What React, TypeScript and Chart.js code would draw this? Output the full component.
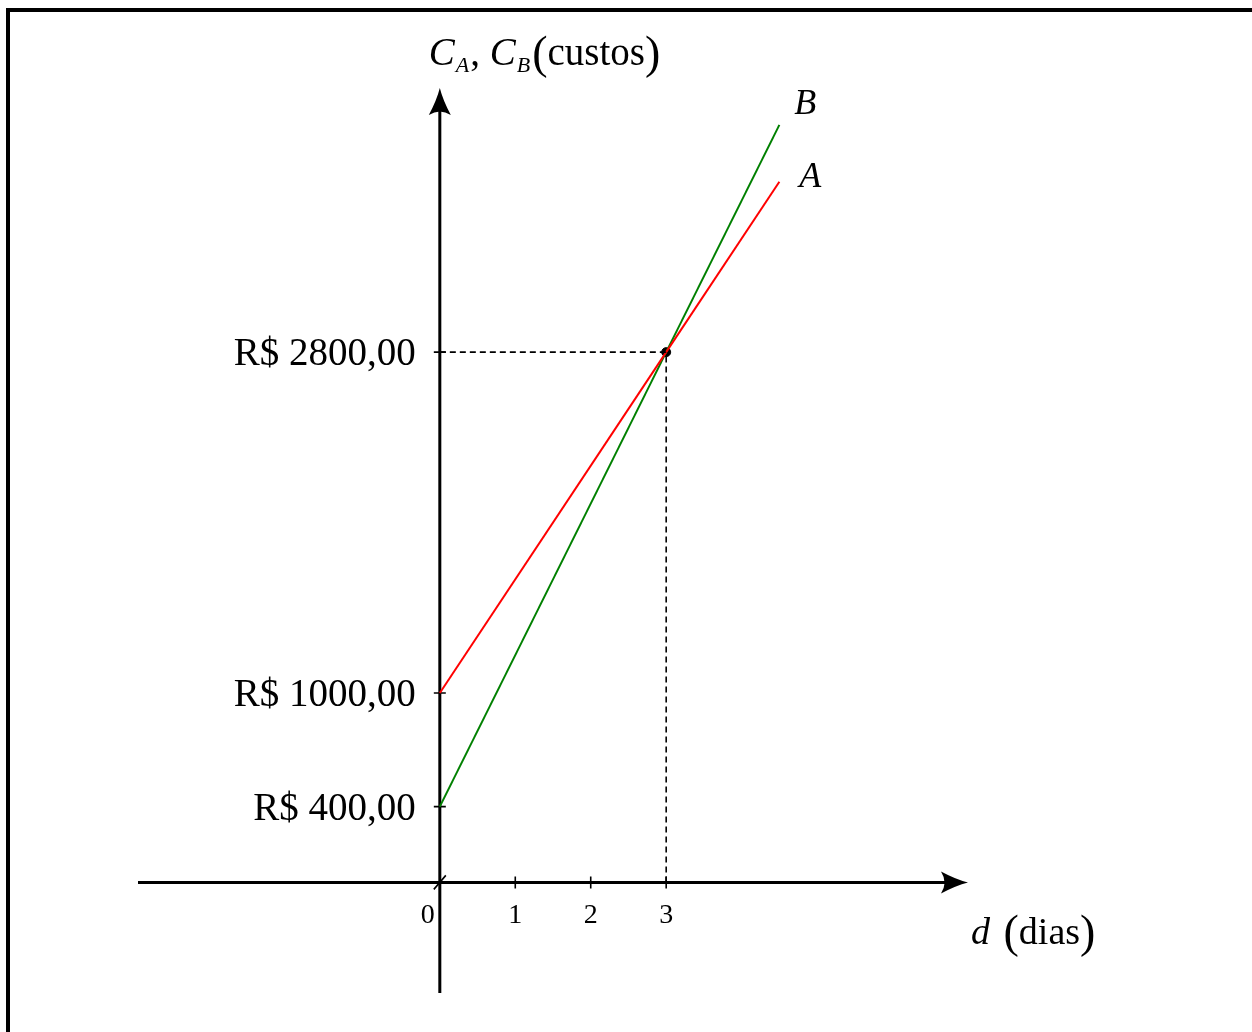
import React, { useEffect, useRef } from "react";
import Chart from "chart.js/auto";

// Cost model: C_A = 1000 + 600 d, C_B = 400 + 800 d (break-even at 3 days)
const days = [0, 3, 4.5];
const costA = [1000, 2800, 3700];
const costB = [400, 2800, 4000];
const breakEvenDay = 3;
const breakEvenCost = 2800;
const xTicks = [0, 1, 2, 3];
const yTicks = [400, 1000, 2800];
const yTickLabels = ["R$ 400,00", "R$ 1000,00", "R$ 2800,00"];

const SERIF = "'Liberation Serif', 'DejaVu Serif', serif";

function drawArrowHead(ctx: CanvasRenderingContext2D, x: number, y: number, angle: number) {
  ctx.save();
  ctx.translate(x, y);
  ctx.rotate(angle);
  ctx.beginPath();
  ctx.moveTo(0, 0);
  ctx.quadraticCurveTo(-12, -3, -27, -11);
  ctx.quadraticCurveTo(-20, 0, -27, 11);
  ctx.quadraticCurveTo(-12, 3, 0, 0);
  ctx.closePath();
  ctx.fillStyle = "#000";
  ctx.fill();
  ctx.restore();
}

const decorations = {
  id: "decorations",
  beforeDatasetsDraw(chart: any) {
    const ctx: CanvasRenderingContext2D = chart.ctx;
    const xs = chart.scales.x;
    const ys = chart.scales.y;
    const area = chart.chartArea;
    const x0 = xs.getPixelForValue(0);
    const y0 = ys.getPixelForValue(0);
    ctx.save();

    // frame
    ctx.strokeStyle = "#000";
    ctx.lineWidth = 4;
    ctx.beginPath();
    ctx.moveTo(8, chart.height);
    ctx.lineTo(8, 10);
    ctx.lineTo(chart.width, 10);
    ctx.stroke();

    // axes
    ctx.lineWidth = 3;
    ctx.beginPath();
    ctx.moveTo(area.left, y0);
    ctx.lineTo(area.right - 20, y0);
    ctx.moveTo(x0, area.bottom - 3);
    ctx.lineTo(x0, area.top + 20);
    ctx.stroke();
    drawArrowHead(ctx, area.right, y0, 0);
    drawArrowHead(ctx, x0, area.top + 1, -Math.PI / 2);

    // tick marks
    ctx.lineWidth = 1.6;
    ctx.beginPath();
    xTicks.forEach((v) => {
      const px = xs.getPixelForValue(v);
      if (v === 0) {
        ctx.moveTo(px - 6, y0 + 7);
        ctx.lineTo(px + 6, y0 - 7);
      } else {
        ctx.moveTo(px, y0 - 6);
        ctx.lineTo(px, y0 + 6);
      }
    });
    yTicks.forEach((v) => {
      const py = ys.getPixelForValue(v);
      ctx.moveTo(x0 - 6, py);
      ctx.lineTo(x0 + 6, py);
    });
    ctx.stroke();

    // tick labels
    ctx.fillStyle = "#000";
    ctx.font = `28px ${SERIF}`;
    ctx.textAlign = "center";
    ctx.textBaseline = "alphabetic";
    xTicks.forEach((v) => {
      const px = xs.getPixelForValue(v) + (v === 0 ? -12 : 0);
      ctx.fillText(String(v), px, y0 + 41);
    });
    ctx.font = `39px ${SERIF}`;
    ctx.textAlign = "right";
    yTicks.forEach((v, i) => {
      const py = ys.getPixelForValue(v);
      ctx.fillText(yTickLabels[i], x0 - 24, py + 13);
    });

    // y-axis title: C_A, C_B (custos)
    ctx.textAlign = "left";
    let tx = x0 - 11;
    const ty = area.top - 22;
    const put = (text: string, font: string, dy = 0, gap = 0) => {
      ctx.font = font;
      ctx.fillText(text, tx, ty + dy);
      tx += ctx.measureText(text).width + gap;
    };
    put("C", `italic 39px ${SERIF}`, 0, 1);
    put("A", `italic 22px ${SERIF}`, 7, 1);
    put(", ", `39px ${SERIF}`);
    put("C", `italic 39px ${SERIF}`, 0, 1);
    put("B", `italic 22px ${SERIF}`, 7, 2);
    put("(", `46px ${SERIF}`, 3);
    put("custos", `39px ${SERIF}`);
    put(")", `46px ${SERIF}`, 3);

    // x-axis title: d (dias)
    tx = area.right + 3;
    const bx = y0 + 62;
    ctx.font = `italic 38px ${SERIF}`;
    ctx.fillText("d", tx, bx);
    tx += ctx.measureText("d ").width + 4;
    ctx.font = `46px ${SERIF}`;
    ctx.fillText("(", tx, bx + 3);
    tx += ctx.measureText("(").width;
    ctx.font = `38px ${SERIF}`;
    ctx.fillText("dias", tx, bx);
    tx += ctx.measureText("dias").width;
    ctx.font = `46px ${SERIF}`;
    ctx.fillText(")", tx, bx + 3);

    // line names
    const lastX = xs.getPixelForValue(days[days.length - 1]);
    ctx.font = `italic 36px ${SERIF}`;
    ctx.fillText("B", lastX + 15, ys.getPixelForValue(costB[costB.length - 1]) - 11);
    ctx.fillText("A", lastX + 20, ys.getPixelForValue(costA[costA.length - 1]) + 5);

    ctx.restore();
  },
};

export default function App() {
  const ref = useRef<HTMLCanvasElement | null>(null);

  useEffect(() => {
    if (!ref.current) return;
    const chart = new Chart(ref.current, {
      type: "line",
      data: {
        datasets: [
          {
            label: "guia horizontal",
            data: [
              { x: 0, y: breakEvenCost },
              { x: breakEvenDay, y: breakEvenCost },
            ],
            borderColor: "#000",
            borderWidth: 1.6,
            borderDash: [6, 4],
            pointRadius: 0,
          },
          {
            label: "guia vertical",
            data: [
              { x: breakEvenDay, y: 0 },
              { x: breakEvenDay, y: breakEvenCost },
            ],
            borderColor: "#000",
            borderWidth: 1.6,
            borderDash: [6, 4],
            pointRadius: 0,
          },
          {
            label: "A",
            data: days.map((d, i) => ({ x: d, y: costA[i] })),
            borderColor: "#ff0000",
            borderWidth: 2,
            pointRadius: 0,
          },
          {
            label: "B",
            data: days.map((d, i) => ({ x: d, y: costB[i] })),
            borderColor: "#008000",
            borderWidth: 2,
            pointRadius: 0,
          },
          {
            label: "equilíbrio",
            data: [{ x: breakEvenDay, y: breakEvenCost }],
            showLine: false,
            pointRadius: 4.5,
            pointBackgroundColor: "#000",
            pointBorderColor: "#000",
          },
        ],
      },
      options: {
        responsive: false,
        animation: false,
        devicePixelRatio: 1,
        layout: { padding: { left: 138, right: 284, top: 87, bottom: 36 } },
        plugins: { legend: { display: false }, tooltip: { enabled: false } },
        scales: {
          x: { type: "linear", min: -4, max: 7, display: false },
          y: { type: "linear", min: -600, max: 4200, display: false },
        },
      },
      plugins: [decorations],
    });
    return () => chart.destroy();
  }, []);

  return (
    <canvas
      ref={ref}
      width={1252}
      height={1032}
      style={{ position: "absolute", left: 0, top: 0, width: 1252, height: 1032, background: "#fff" }}
    />
  );
}
